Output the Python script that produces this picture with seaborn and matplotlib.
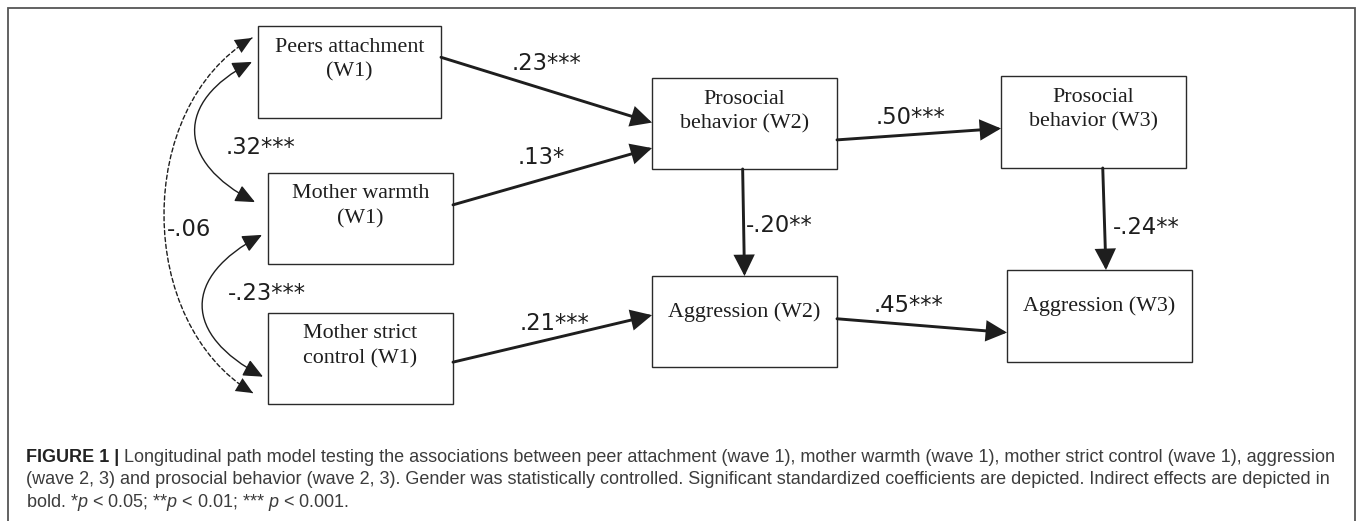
import matplotlib
matplotlib.use("Agg")
import matplotlib.pyplot as plt
import seaborn as sns
from matplotlib.patches import Rectangle, FancyArrowPatch
from matplotlib.path import Path

# boxes of the path model
node_names = ["peers", "warmth", "strict", "pro2", "agg2", "pro3", "agg3"]
node_lines = [
    ["Peers attachment", "(W1)"],
    ["Mother warmth", "(W1)"],
    ["Mother strict", "control (W1)"],
    ["Prosocial", "behavior (W2)"],
    ["Aggression (W2)"],
    ["Prosocial", "behavior (W3)"],
    ["Aggression (W3)"],
]

# directed paths with standardized coefficients
path_src = ["peers", "warmth", "strict", "pro2", "pro2", "agg2", "pro3"]
path_dst = ["pro2", "pro2", "agg2", "agg2", "pro3", "agg3", "agg3"]
path_coef = [".23***", ".13*", ".21***", "-.20**", ".50***", ".45***", "-.24**"]

# covariances between the wave 1 variables
cov_a = ["peers", "warmth", "peers"]
cov_b = ["warmth", "strict", "strict"]
cov_coef = [".32***", "-.23***", "-.06"]
cov_signif = [True, True, False]

caption_head = "FIGURE 1 |"
caption_lines = [
    "Longitudinal path model testing the associations between peer attachment (wave 1), "
    "mother warmth (wave 1), mother strict control (wave 1), aggression",
    "(wave 2, 3) and prosocial behavior (wave 2, 3). Gender was statistically controlled. "
    "Significant standardized coefficients are depicted. Indirect effects are depicted in",
    r"bold. *$p$ < 0.05; **$p$ < 0.01; *** $p$ < 0.001.",
]

# ---- layout (pixel units) ----
W, H = 1358, 521
box_xywh = {
    "peers": (258, 26, 183, 92),
    "warmth": (268, 173, 185, 91),
    "strict": (268, 313, 185, 91),
    "pro2": (652, 78, 185, 91),
    "agg2": (652, 276, 185, 91),
    "pro3": (1001, 76, 185, 92),
    "agg3": (1007, 270, 185, 92),
}
path_anchor = [
    (("right", 0.34), ("left", 0.49)),
    (("right", 0.35), ("left", 0.77)),
    (("right", 0.54), ("left", 0.43)),
    (("bottom", 0.49), ("top", 0.50)),
    (("right", 0.68), ("left", 0.57)),
    (("right", 0.47), ("left", 0.68)),
    (("bottom", 0.55), ("top", 0.535)),
]
path_label_xy = [(546, 63), (541, 158), (554, 323), (779, 225),
                 (911, 117), (909, 305), (1146, 227)]
cov_anchor = [((0.39, 6), (0.32, 13)), ((0.68, 6), (0.70, 5)), ((0.13, 6), (0.88, 15))]
# horizontal reach and vertical lead of the bezier handles
cov_handle = [(78, 40), (80, 42), (118, 70)]
cov_label_xy = [(260, 147), (267, 293), (189, 230)]

sns.set_theme(style="white")
plt.rcParams["font.family"] = ["DejaVu Sans"]
plt.rcParams["mathtext.fontset"] = "custom"
plt.rcParams["mathtext.it"] = "Liberation Sans:italic"
plt.rcParams["mathtext.rm"] = "Liberation Sans"

fig = plt.figure(figsize=(W / 100, H / 100), dpi=100)
ax = fig.add_axes([0, 0, 1, 1])
ax.set_xlim(0, W)
ax.set_ylim(H, 0)
ax.axis("off")

ink = "#1e1e1e"

# outer frame
ax.plot([8, 8, 1355, 1355], [H, 8, 8, H], color="#555555", lw=1.3, solid_joinstyle="miter")

# boxes
for name, lines in zip(node_names, node_lines):
    x, y, w, h = box_xywh[name]
    ax.add_patch(Rectangle((x, y), w, h, fill=False, ec="#2a2a2a", lw=1.0))
    if len(lines) == 1:
        ax.text(x + w / 2, y + 36, lines[0], ha="center", va="center",
                family="Liberation Serif", fontsize=15.8, color=ink)
    else:
        for i, t in enumerate(lines):
            ax.text(x + w / 2, y + 21 + 25 * i, t, ha="center", va="center",
                    family="Liberation Serif", fontsize=15.8, color=ink)


def anchor(name, side, frac, gap=0):
    x, y, w, h = box_xywh[name]
    if side == "right":
        return (x + w + gap, y + frac * h)
    if side == "left":
        return (x - gap, y + frac * h)
    if side == "bottom":
        return (x + frac * w, y + h + gap)
    return (x + frac * w, y - gap)


# directed paths
for src, dst, (a1, a2), coef, lxy in zip(path_src, path_dst, path_anchor, path_coef, path_label_xy):
    p1 = anchor(src, *a1)
    p2 = anchor(dst, *a2)
    ax.add_patch(FancyArrowPatch(p1, p2, arrowstyle="-|>,head_length=1.0,head_width=0.5",
                                 mutation_scale=12, lw=2.1, color=ink,
                                 shrinkA=0, shrinkB=0, joinstyle="miter"))
    ax.text(lxy[0], lxy[1], coef, ha="center", va="center", fontsize=16.3, color=ink)

# covariances (curved double-headed arrows)
for a, b, (e1, e2), (hx, hy), coef, sig, lxy in zip(cov_a, cov_b, cov_anchor, cov_handle,
                                                     cov_coef, cov_signif, cov_label_xy):
    p1 = anchor(a, "left", e1[0], e1[1])
    p2 = anchor(b, "left", e2[0], e2[1])
    curve = Path([p1, (p1[0] - hx, p1[1] + hy), (p2[0] - hx, p2[1] - hy), p2],
                 [Path.MOVETO, Path.CURVE4, Path.CURVE4, Path.CURVE4])
    heads = "<|-|>,head_length=1.0,head_width=0.45"
    if sig:
        ax.add_patch(FancyArrowPatch(path=curve, arrowstyle=heads, mutation_scale=12,
                                     lw=1.0, color=ink))
    else:
        # dashed body, then solid filled heads on top
        ax.add_patch(FancyArrowPatch(path=curve, arrowstyle="-", mutation_scale=12,
                                     lw=1.0, color=ink, linestyle=(0, (3, 2))))
        ax.add_patch(FancyArrowPatch(path=curve, arrowstyle=heads, mutation_scale=12,
                                     lw=0.0, color=ink))
    ax.text(lxy[0], lxy[1], coef, ha="center", va="center", fontsize=16.3, color=ink)

# caption, fitted so that the first line spans the frame width
renderer = fig.canvas.get_renderer()
x0, x_end = 26, 1338
baselines = [462, 484.5, 507]
fs = 11.5
for _ in range(3):
    for t in list(ax.texts):
        if getattr(t, "_caption", False):
            t.remove()
    head = ax.text(x0, baselines[0], caption_head, ha="left", va="baseline",
                   family="Liberation Sans", weight="bold", fontsize=fs, color="#222222")
    head._caption = True
    bb = head.get_window_extent(renderer)
    x1 = x0 + bb.width + fs * 0.35
    drawn = []
    for i, line in enumerate(caption_lines):
        t = ax.text(x1 if i == 0 else x0, baselines[i], line, ha="left", va="baseline",
                    family="Liberation Sans", fontsize=fs, color="#3c3c3c")
        t._caption = True
        drawn.append(t)
    right = drawn[0].get_window_extent(renderer).x1
    fs *= (x_end - x0) / (right - x0)

fig.savefig("out.png", dpi=100)
